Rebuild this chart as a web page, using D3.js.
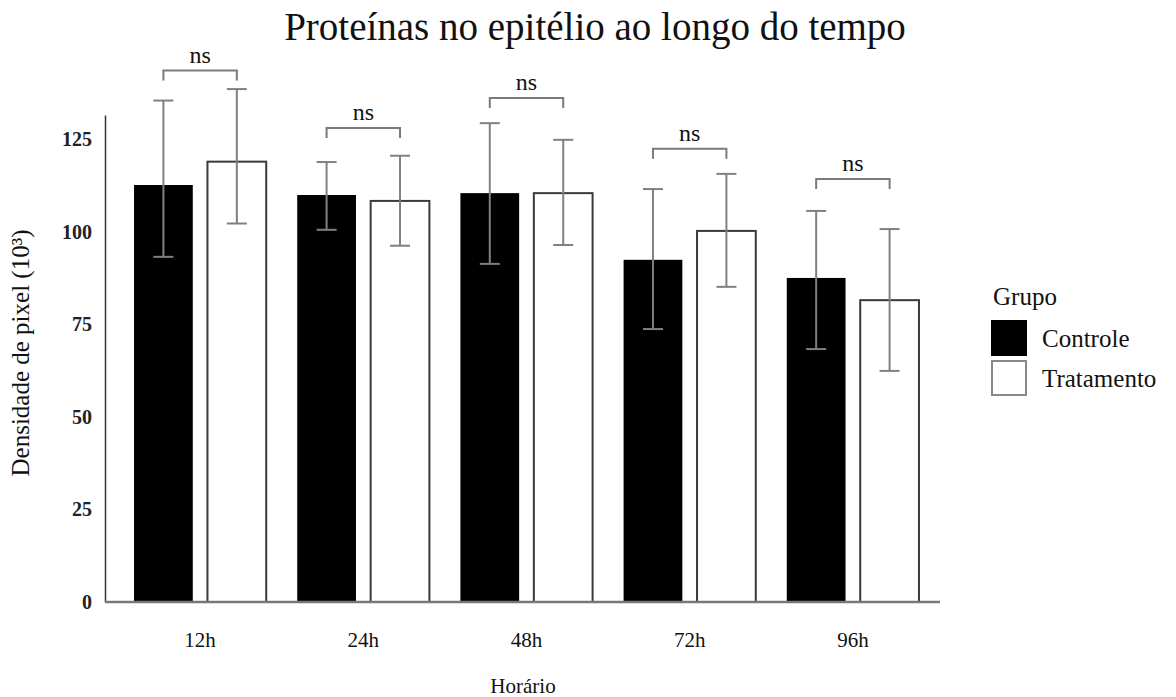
<!DOCTYPE html>
<html>
<head>
<meta charset="utf-8">
<script src="https://d3js.org/d3.v7.min.js"></script>
<style>
  body { margin: 0; background: #fff; }
  svg { display: block; font-family: "Liberation Serif", serif; }
</style>
</head>
<body>
<div id="chart"></div>
<script>
// dados
var horarios = ["12h", "24h", "48h", "72h", "96h"];
var grupos = ["Controle", "Tratamento"];
var mediaControle = [112.6, 109.9, 110.4, 92.4, 87.5];
var supControle = [135.4, 118.8, 129.3, 111.5, 105.6];
var infControle = [93.2, 100.5, 91.3, 73.7, 68.3];
var mediaTratamento = [118.9, 108.3, 110.4, 100.2, 81.5];
var supTratamento = [138.5, 120.5, 124.8, 115.6, 100.7];
var infTratamento = [102.2, 96.2, 96.4, 85.1, 62.4];
var alturaColchete = [143.5, 128, 136.1, 122.4, 114.2];
var rotuloSignif = ["ns", "ns", "ns", "ns", "ns"];
var yTicks = [0, 25, 50, 75, 100, 125];

var width = 1176, height = 697;

var svg = d3
  .select("#chart")
  .append("svg")
  .attr("width", width)
  .attr("height", height);

// monta a tabela longa
var dados = [];
horarios.forEach(function (h, i) {
  dados.push({ horario: h, grupo: "Controle", media: mediaControle[i], sup: supControle[i], inf: infControle[i] });
  dados.push({ horario: h, grupo: "Tratamento", media: mediaTratamento[i], sup: supTratamento[i], inf: infTratamento[i] });
});

// escalas
var x = d3
  .scaleBand()
  .domain(horarios)
  .range([112, 941])
  .paddingInner(0.19)
  .paddingOuter(0.135);

var xg = d3
  .scaleBand()
  .domain(grupos)
  .range([0, x.bandwidth()])
  .paddingInner(0.2);

var y = d3.scaleLinear().domain([0, 131.5]).range([602, 115]);

var cor = d3.scaleOrdinal().domain(grupos).range(["#000000", "#ffffff"]);

// barras
svg
  .append("g")
  .selectAll("rect")
  .data(dados)
  .enter()
  .append("rect")
  .attr("x", function (d) {
    return x(d.horario) + xg(d.grupo);
  })
  .attr("y", function (d) {
    return y(d.media);
  })
  .attr("width", xg.bandwidth())
  .attr("height", function (d) {
    return y(0) - y(d.media);
  })
  .style("fill", function (d) {
    return cor(d.grupo);
  })
  .style("stroke", function (d) {
    return d.grupo == "Controle" ? "none" : "#3a3a3a";
  })
  .style("stroke-width", 2);

// barras de erro
var erro = svg.append("g").attr("stroke", "#808080").attr("stroke-width", 2);
var capW = 10;
dados.forEach(function (d) {
  var cx = x(d.horario) + xg(d.grupo) + xg.bandwidth() / 2;
  var y1 = y(d.sup), y0 = y(d.inf);
  erro.append("line").attr("x1", cx).attr("x2", cx).attr("y1", y1).attr("y2", y0);
  erro.append("line").attr("x1", cx - capW).attr("x2", cx + capW).attr("y1", y1).attr("y2", y1);
  erro.append("line").attr("x1", cx - capW).attr("x2", cx + capW).attr("y1", y0).attr("y2", y0);
});

// colchetes de significancia
var colch = svg.append("g");
horarios.forEach(function (h, i) {
  var xa = x(h) + xg("Controle") + xg.bandwidth() / 2;
  var xb = x(h) + xg("Tratamento") + xg.bandwidth() / 2;
  var yc = y(alturaColchete[i]);
  colch
    .append("path")
    .attr("d", "M" + xa + "," + (yc + 10) + "V" + yc + "H" + xb + "V" + (yc + 10))
    .attr("fill", "none")
    .attr("stroke", "#7a7a7a")
    .attr("stroke-width", 2);
  colch
    .append("text")
    .attr("x", (xa + xb) / 2)
    .attr("y", yc - 8)
    .attr("text-anchor", "middle")
    .style("font-size", "24px")
    .style("fill", "#111")
    .text(rotuloSignif[i]);
});

// eixo y
var eixoY = svg
  .append("g")
  .attr("transform", "translate(105,0)")
  .attr("font-family", "Liberation Serif")
  .call(d3.axisLeft(y).tickValues(yTicks).tickSize(0).tickSizeOuter(0).tickPadding(13));
eixoY.select(".domain").attr("stroke", "#333").attr("stroke-width", 1.5);
eixoY
  .selectAll("text")
  .style("font-family", "Liberation Serif")
  .style("font-size", "20px")
  .style("font-weight", "bold")
  .style("fill", "#222");

// eixo x
var eixoX = svg
  .append("g")
  .attr("transform", "translate(0,602)")
  .attr("font-family", "Liberation Serif")
  .call(d3.axisBottom(x).tickSize(0).tickPadding(0));
eixoX.select(".domain").remove();
eixoX
  .selectAll("text")
  .attr("y", 45)
  .attr("dy", 0)
  .style("font-family", "Liberation Serif")
  .style("font-size", "21px")
  .style("fill", "#111");

svg
  .append("line")
  .attr("x1", 105)
  .attr("x2", 940)
  .attr("y1", y(0))
  .attr("y2", y(0))
  .attr("stroke", "#777")
  .attr("stroke-width", 2.5);

// titulos
svg
  .append("text")
  .attr("x", 595)
  .attr("y", 40)
  .attr("text-anchor", "middle")
  .style("font-size", "39px")
  .style("fill", "#111")
  .text("Proteínas no epitélio ao longo do tempo");

svg
  .append("text")
  .attr("x", 523)
  .attr("y", 693)
  .attr("text-anchor", "middle")
  .style("font-size", "21px")
  .style("fill", "#111")
  .text("Horário");

svg
  .append("text")
  .attr("transform", "translate(29,353) rotate(-90)")
  .attr("text-anchor", "middle")
  .style("font-size", "25px")
  .style("fill", "#111")
  .text("Densidade de pixel (10³)");

// legenda
var leg = svg.append("g").attr("transform", "translate(991,0)");
leg
  .append("text")
  .attr("x", 2)
  .attr("y", 305)
  .style("font-size", "25px")
  .style("fill", "#111")
  .text("Grupo");

var itens = leg
  .selectAll("g.item")
  .data(grupos)
  .enter()
  .append("g")
  .attr("class", "item")
  .attr("transform", function (d, i) {
    return "translate(0," + (320 + i * 40) + ")";
  });
itens
  .append("rect")
  .attr("x", 1)
  .attr("y", 1)
  .attr("width", 34)
  .attr("height", 34)
  .style("fill", function (d) {
    return cor(d);
  })
  .style("stroke", function (d) {
    return d == "Controle" ? "#000" : "#888";
  })
  .style("stroke-width", 2);
itens
  .append("text")
  .attr("x", 51)
  .attr("y", 27)
  .style("font-size", "25px")
  .style("fill", "#111")
  .text(function (d) {
    return d;
  });
</script>
</body>
</html>
